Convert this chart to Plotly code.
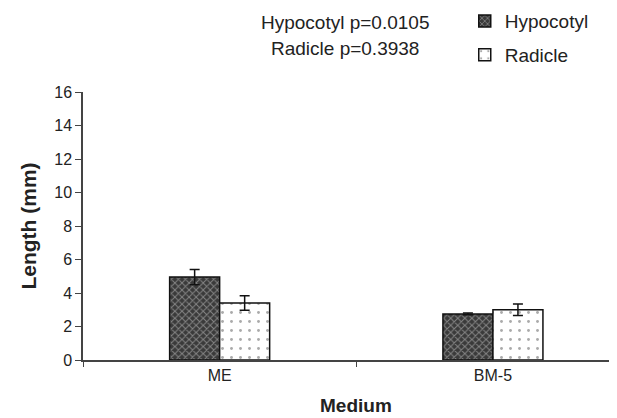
import plotly.graph_objects as go

categories = ["ME", "BM-5"]
hypocotyl = [4.95, 2.75]
hypocotyl_err = [0.45, 0.05]
radicle = [3.4, 3.0]
radicle_err = [0.43, 0.35]
y_ticks = [0, 2, 4, 6, 8, 10, 12, 14, 16]

FONT = "Liberation Sans, Arial, sans-serif"

fig = go.Figure()
fig.add_trace(go.Bar(
    name="Hypocotyl", x=categories, y=hypocotyl, legendgroup="h",
    error_y=dict(type="data", array=hypocotyl_err, color="#111", thickness=1.5, width=5),
    marker=dict(color="#3a3a3a", line=dict(color="#111", width=1.5),
                pattern=dict(shape="x", bgcolor="#3a3a3a", fgcolor="#d0d0d0", size=5, solidity=0.35)),
))
fig.add_trace(go.Bar(
    name="Radicle", x=categories, y=radicle, legendgroup="r",
    error_y=dict(type="data", array=radicle_err, color="#111", thickness=1.5, width=5),
    marker=dict(color="white", line=dict(color="#111", width=1.5),
                pattern=dict(shape=".", bgcolor="white", fgcolor="#555", size=9, solidity=0.08)),
))

fig.update_layout(
    width=609, height=410,
    margin=dict(l=75, r=0, t=84, b=58, autoexpand=False),
    paper_bgcolor="white", plot_bgcolor="white",
    barmode="group", bargap=0.634, bargroupgap=0,
    font=dict(family=FONT, size=14, color="#222"),
    legend=dict(x=0.75, xanchor="left", y=1.335, yanchor="top", xref="container", yref="paper",
                tracegroupgap=6, font=dict(size=19, color="#222"),
                bgcolor="rgba(0,0,0,0)"),
    showlegend=True,
)

fig.update_xaxes(
    range=[-0.5, 1.454], showline=True, linecolor="#444", linewidth=1.5,
    ticks="outside", ticklen=5, tickcolor="#444", tickson="boundaries",
    showgrid=False, zeroline=False, automargin=False,
    tickfont=dict(size=16, color="#222"),
)
fig.update_yaxes(
    range=[0, 16], tickvals=y_ticks, showline=True, linecolor="#444", linewidth=1.5,
    ticks="outside", ticklen=6, tickcolor="#444",
    showgrid=False, zeroline=False, automargin=False,
    tickfont=dict(size=16, color="#222"),
    title=dict(text="<b>Length (mm)</b>", font=dict(size=21, color="#222"), standoff=12),
)

fig.add_annotation(
    text="<b>Medium</b>",
    xref="x", yref="paper", x=0.5, y=0, yshift=-45, yanchor="middle",
    showarrow=False, font=dict(size=19, color="#222"),
)
fig.add_annotation(
    text="Hypocotyl p=0.0105",
    xref="paper", yref="paper", x=0.49, y=1.0, yshift=70, yanchor="middle",
    showarrow=False, align="center", font=dict(size=19, color="#222"),
)
fig.add_annotation(
    text="Radicle p=0.3938",
    xref="paper", yref="paper", x=0.49, y=1.0, yshift=44, yanchor="middle",
    showarrow=False, align="center", font=dict(size=19, color="#222"),
)

fig.write_html("out.html")
